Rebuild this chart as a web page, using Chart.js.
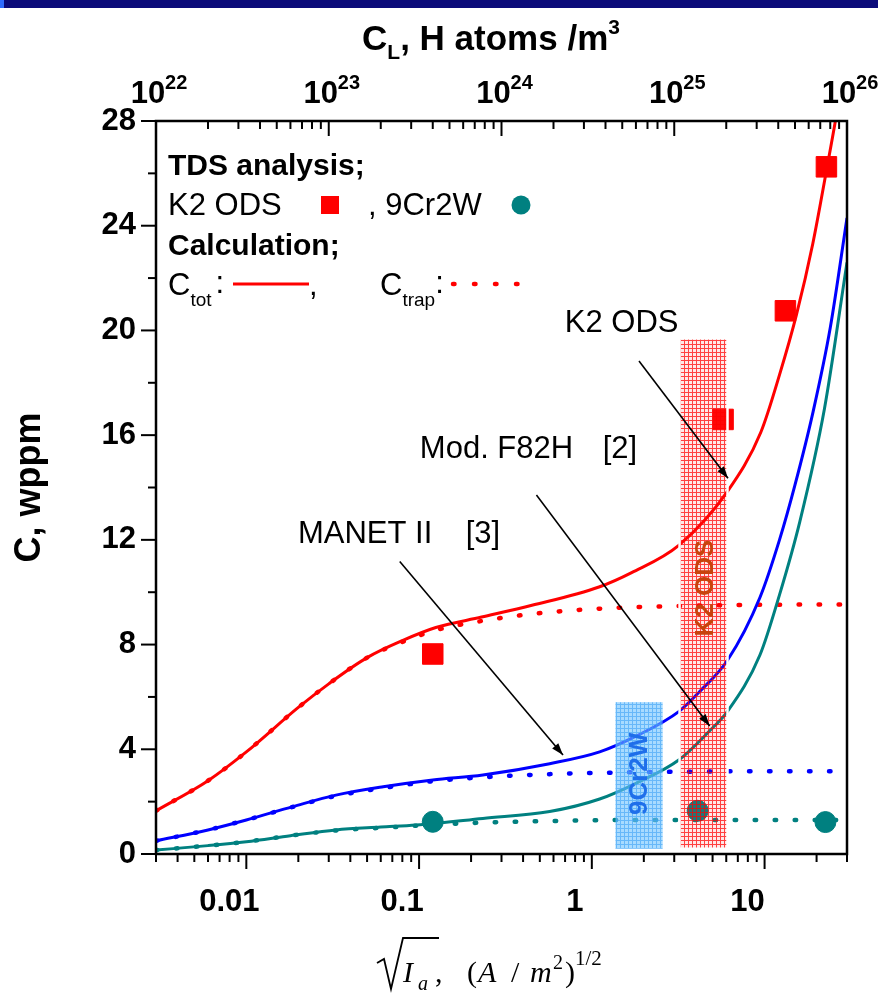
<!DOCTYPE html>
<html>
<head>
<meta charset="utf-8">
<script src="https://cdn.jsdelivr.net/npm/chart.js@4.4.1/dist/chart.umd.min.js"></script>
<style>
  html, body { margin: 0; padding: 0; background: #fff; }
  canvas { display: block; }
</style>
</head>
<body>
<canvas id="chart" width="878" height="993"></canvas>
<script>
// ---------- values ----------
// K2 ODS : total and trapped hydrogen concentration (wppm) vs sqrt(Ia)
const k2TotX  = [0.003, 0.006, 0.01, 0.02, 0.03, 0.05, 0.08, 0.125, 0.23, 0.45, 1.1, 1.7, 3.2, 6.1, 9.5, 12.2, 15.3, 19, 22.8, 26, 29];
const k2TotY  = [1.65, 2.8, 3.9, 5.6, 6.5, 7.5, 8.15, 8.65, 9.05, 9.5, 10.2, 10.75, 11.8, 13.85, 16.1, 18.3, 20.6, 23.3, 26.1, 28.2, 30.2];
const k2TrapX = [0.003, 0.006, 0.01, 0.02, 0.03, 0.05, 0.08, 0.125, 0.23, 0.45, 1.1, 3, 10, 30];
const k2TrapY = [1.65, 2.8, 3.9, 5.6, 6.5, 7.5, 8.1, 8.55, 8.9, 9.17, 9.37, 9.47, 9.52, 9.53];

// MANET II
const manetTotX  = [0.003, 0.006, 0.01, 0.0186, 0.033, 0.062, 0.12, 0.234, 0.57, 1.11, 1.8, 3.2, 4.2, 6.1, 9.4, 12.2, 15, 19.1, 24, 30];
const manetTotY  = [0.5, 0.92, 1.3, 1.81, 2.25, 2.57, 2.83, 3.02, 3.45, 3.9, 4.5, 5.45, 6.2, 7.4, 9.8, 12.0, 14.1, 16.9, 20.1, 24.3];
const manetTrapX = [0.003, 0.006, 0.01, 0.0186, 0.033, 0.062, 0.12, 0.234, 0.57, 1.11, 3, 10, 30];
const manetTrapY = [0.5, 0.92, 1.3, 1.8, 2.22, 2.52, 2.78, 2.93, 3.05, 3.1, 3.14, 3.16, 3.16];

// Mod. F82H
const f82hTotX  = [0.003, 0.006, 0.01, 0.018, 0.033, 0.06, 0.096, 0.234, 0.57, 1.11, 1.8, 3.2, 4.8, 6.1, 9.4, 12.2, 16, 22.2, 30];
const f82hTotY  = [0.15, 0.32, 0.47, 0.7, 0.92, 1.03, 1.11, 1.36, 1.62, 2.1, 2.7, 3.6, 4.7, 5.45, 7.6, 9.9, 12.7, 17.0, 22.6];
const f82hTrapX = [0.003, 0.006, 0.01, 0.018, 0.033, 0.06, 0.096, 0.234, 0.57, 1.11, 3, 30];
const f82hTrapY = [0.15, 0.32, 0.47, 0.7, 0.9, 1.0, 1.08, 1.2, 1.26, 1.29, 1.3, 1.3];

// TDS measurements
const k2OdsX = [0.12, 5.75, 13.2, 22.8];
const k2OdsY = [7.64, 16.6, 20.75, 26.25];
const cr2wX  = [0.12, 4.1, 22.5];
const cr2wY  = [1.23, 1.65, 1.22];

// axes
const X_MIN = 0.003, X_MAX = 30;
const CL_MIN = 1e22, CL_MAX = 1e26;
const Y_MIN = 0, Y_MAX = 28;
const BOTTOM_TICK_VALUES = [0.01, 0.1, 1, 10];
const BOTTOM_TICK_LABELS = ['0.01', '0.1', '1', '10'];
const TOP_EXPONENTS = [22, 23, 24, 25, 26];

// shaded ranges of sqrt(Ia) (x0, x1, y0, y1 in data units)
const band9Cr2W = [1.37, 2.57, 0.2, 5.8];
const bandK2    = [3.22, 6.1, 0.2, 19.7];

// callouts: text position and arrow (start -> tip), data units
const callouts = [
  { text: 'K2 ODS',    tx: 0.697, ty: 19.94, ref: '',    rx: 0,     ax0: 1.875, ay0: 18.83, ax1: 6.14, ay1: 14.35 },
  { text: 'Mod. F82H', tx: 0.101, ty: 15.13, ref: '[2]', rx: 1.156, ax0: 0.478, ay0: 13.71, ax1: 4.81, ay1: 4.89 },
  { text: 'MANET II',  tx: 0.0199, ty: 11.88, ref: '[3]', rx: 0.186, ax0: 0.0773, ay0: 11.17, ax1: 0.681, ay1: 3.78 }
];

const RED = '#ff0000', BLUE = '#0000ff', TEAL = '#008080';
const SANS = '"Liberation Sans", Arial, Helvetica, sans-serif';
const SERIF = '"Liberation Serif", "Times New Roman", serif';

const pts = (xs, ys) => xs.map((x, i) => ({ x, y: ys[i] }));

function solid(data, color) {
  return { data, showLine: true, borderColor: color, borderWidth: 3, pointRadius: 0,
           cubicInterpolationMode: 'monotone', fill: false };
}
function dotted(data, color) {
  return { data, showLine: true, borderColor: color, borderWidth: 4.5, pointRadius: 0,
           borderDash: [1.5, 18.5], borderCapStyle: 'round',
           cubicInterpolationMode: 'monotone', fill: false };
}

function mesh(ctx, base, line) {
  const t = document.createElement('canvas');
  t.width = 4; t.height = 4;
  const g = t.getContext('2d');
  if (base) { g.fillStyle = base; g.fillRect(0, 0, 4, 4); }
  g.fillStyle = line;
  g.fillRect(0, 0, 4, 1);
  g.fillRect(0, 1, 1, 3);
  return ctx.createPattern(t, 'repeat');
}

function arrow(c, x0, y0, x1, y1) {
  c.beginPath(); c.moveTo(x0, y0); c.lineTo(x1, y1); c.stroke();
  const a = Math.atan2(y1 - y0, x1 - x0), L = 12, W = 4;
  c.beginPath();
  c.moveTo(x1, y1);
  c.lineTo(x1 - L * Math.cos(a) + W * Math.sin(a), y1 - L * Math.sin(a) - W * Math.cos(a));
  c.lineTo(x1 - L * Math.cos(a) - W * Math.sin(a), y1 - L * Math.sin(a) + W * Math.cos(a));
  c.closePath(); c.fill();
}

// draws runs of [text, fontSize, baselineShift, weight, style, family]
function setFont(c, p) {
  const [, size, , weight, style, fam] = p;
  c.font = `${style || 'normal'} ${weight || 'normal'} ${size}px ${fam || SANS}`;
}
function runs(c, x, y, parts) {
  for (const p of parts) {
    setFont(c, p);
    c.fillText(p[0], x, y + (p[2] || 0));
    x += c.measureText(p[0]).width;
  }
  return x;
}
function runsWidth(c, parts) {
  let w = 0;
  for (const p of parts) { setFont(c, p); w += c.measureText(p[0]).width; }
  return w;
}

const decor = {
  id: 'decor',
  beforeDraw(chart) {
    const c = chart.ctx;
    c.save();
    c.fillStyle = '#ffffff';
    c.fillRect(0, 0, chart.width, chart.height);
    c.fillStyle = '#0b0b7a';
    c.fillRect(0, 0, chart.width, 8);
    c.fillStyle = '#2f6cff';
    c.fillRect(0, 0, 4, 8);
    c.restore();
  },
  afterDatasetsDraw(chart) {
    const c = chart.ctx, xs = chart.scales.x, ys = chart.scales.y;
    c.save();
    // shaded ranges
    const box = (b) => {
      const x0 = xs.getPixelForValue(b[0]), x1 = xs.getPixelForValue(b[1]);
      const y0 = ys.getPixelForValue(b[3]), y1 = ys.getPixelForValue(b[2]);
      return [x0, y0, x1 - x0, y1 - y0];
    };
    let r = box(band9Cr2W);
    c.fillStyle = mesh(c, 'rgba(110,195,255,0.6)', 'rgba(60,160,245,0.6)');
    c.fillRect(...r);
    c.save();
    c.translate(r[0] + r[2] / 2 + 1, ys.getPixelForValue(3.06));
    c.rotate(-Math.PI / 2);
    c.font = `bold 26px ${SANS}`; c.fillStyle = '#1f6fea';
    c.textAlign = 'center'; c.textBaseline = 'middle';
    c.fillText('9Cr2W', 0, 0);
    c.restore();

    r = box(bandK2);
    c.fillStyle = mesh(c, 'rgba(255,60,60,0.12)', 'rgba(255,0,0,0.72)');
    c.fillRect(...r);
    c.strokeStyle = '#ffffff'; c.lineWidth = 2.5;
    c.strokeRect(...r);
    c.save();
    c.translate(r[0] + r[2] / 2 + 2, ys.getPixelForValue(10.16));
    c.rotate(-Math.PI / 2);
    c.font = `bold 26px ${SANS}`; c.fillStyle = '#c8430c';
    c.textAlign = 'center'; c.textBaseline = 'middle';
    c.fillText('K2 ODS', 0, 0);
    c.restore();

    // callouts
    c.strokeStyle = '#000'; c.fillStyle = '#000'; c.lineWidth = 1.6;
    c.textBaseline = 'alphabetic'; c.textAlign = 'left';
    for (const k of callouts) {
      c.font = `31px ${SANS}`;
      c.fillText(k.text, xs.getPixelForValue(k.tx), ys.getPixelForValue(k.ty));
      if (k.ref) c.fillText(k.ref, xs.getPixelForValue(k.rx), ys.getPixelForValue(k.ty));
      arrow(c, xs.getPixelForValue(k.ax0), ys.getPixelForValue(k.ay0),
               xs.getPixelForValue(k.ax1), ys.getPixelForValue(k.ay1));
    }
    c.restore();
  },
  afterDraw(chart) {
    const c = chart.ctx, xs = chart.scales.x, xt = chart.scales.x2, ys = chart.scales.y;
    const { left, right, top, bottom } = chart.chartArea;
    c.save();
    c.strokeStyle = '#000'; c.lineWidth = 2;
    const seg = (a, b, d, e) => { c.beginPath(); c.moveTo(a, b); c.lineTo(d, e); c.stroke(); };

    // bottom ticks (outside)
    for (let e = -3; e <= 1; e++) {
      for (let m = 1; m <= 9; m++) {
        const v = m * Math.pow(10, e);
        if (v < X_MIN * 0.999 || v > X_MAX * 1.001) continue;
        const px = xs.getPixelForValue(v);
        seg(px, bottom, px, bottom + (m === 1 ? 15 : 8));
      }
    }
    // top ticks (inside)
    for (let e = 22; e <= 26; e++) {
      for (let m = 1; m <= 9; m++) {
        const v = m * Math.pow(10, e);
        if (v > CL_MAX * 1.001) continue;
        const px = xt.getPixelForValue(v);
        seg(px, top, px, top + (m === 1 ? 15 : 8));
      }
    }
    // left ticks (outside)
    for (let v = Y_MIN; v <= Y_MAX; v += 2) {
      const py = ys.getPixelForValue(v);
      seg(left, py, left - (v % 4 === 0 ? 15 : 8), py);
    }
    // frame
    c.lineWidth = 2.5;
    c.strokeRect(left, top, right - left, bottom - top);

    // top tick labels 10^n
    c.fillStyle = '#000'; c.textBaseline = 'alphabetic'; c.textAlign = 'left';
    for (const n of TOP_EXPONENTS) {
      const px = xt.getPixelForValue(Math.pow(10, n));
      const parts = [['10', 31, 0, 'bold'], [String(n), 20, -14, 'bold']];
      const w = runsWidth(c, parts);
      runs(c, px - w / 2 + 3, 103, parts);
    }
    // top axis title
    {
      const parts = [['C', 35, 0, 'bold'], ['L', 21, 9, 'bold'], [', H atoms /m', 35, 0, 'bold'], ['3', 21, -16, 'bold']];
      const w = runsWidth(c, parts);
      runs(c, 491 - w / 2, 50, parts);
    }
    // bottom axis title: sqrt(Ia), (A/m^2)^(1/2)
    {
      const base = 982;
      c.lineWidth = 1.8;
      c.beginPath();
      c.moveTo(377, 963); c.lineTo(384, 959); c.lineTo(391, 989);
      c.lineTo(403, 938); c.lineTo(439, 938);
      c.stroke();
      const put = (t, x, size, dy, style) => {
        c.font = `${style || 'normal'} ${size}px ${SERIF}`;
        c.fillText(t, x, base + dy);
      };
      put('I', 403, 30, 0, 'italic');
      put('a', 418, 20, 8, 'italic');
      put(',', 435, 30, 0);
      put('(', 467, 30, 0);
      put('A', 478, 30, 0, 'italic');
      put('/', 511, 30, 0);
      put('m', 530, 30, 0, 'italic');
      put('2', 553, 20, -13);
      put(')', 565, 30, 0);
      put('1/2', 575, 21, -17);
    }

    // legend block
    {
      const lx = left + 12;
      c.fillStyle = '#000';
      runs(c, lx, top + 54, [['TDS analysis;', 30, 0, 'bold']]);
      runs(c, lx, top + 94, [['K2 ODS', 31]]);
      c.fillStyle = RED; c.fillRect(left + 165, top + 75, 18, 18);
      c.fillStyle = '#000';
      runs(c, left + 212, top + 94, [[', 9Cr2W', 31]]);
      c.fillStyle = TEAL; c.beginPath(); c.arc(left + 365, top + 84, 9.5, 0, Math.PI * 2); c.fill();
      c.fillStyle = '#000';
      runs(c, lx, top + 134, [['Calculation;', 30, 0, 'bold']]);
      let x = runs(c, lx, top + 174, [['C', 31], ['tot', 19, 11]]);
      runs(c, x + 4, top + 172, [[':', 31]]);
      c.strokeStyle = RED; c.lineWidth = 3;
      seg(left + 77, top + 163, left + 153, top + 163);
      c.fillStyle = '#000';
      runs(c, left + 153, top + 174, [[',', 31]]);
      x = runs(c, left + 224, top + 174, [['C', 31], ['trap', 19, 11]]);
      runs(c, x, top + 172, [[':', 31]]);
      c.strokeStyle = RED; c.lineWidth = 4.5; c.lineCap = 'round';
      c.setLineDash([1.5, 19.5]);
      seg(left + 297, top + 163, left + 362, top + 163);
      c.setLineDash([]);
    }
    c.restore();
  }
};

new Chart(document.getElementById('chart'), {
  type: 'scatter',
  data: {
    datasets: [
      { label: 'K2 ODS (TDS)', data: pts(k2OdsX, k2OdsY), pointStyle: 'rect', pointRadius: 14.5,
        pointBackgroundColor: RED, pointBorderColor: RED, pointBorderWidth: 1, showLine: false },
      { label: '9Cr2W (TDS)', data: pts(cr2wX, cr2wY), pointStyle: 'circle', pointRadius: 10.5,
        pointBackgroundColor: TEAL, pointBorderColor: TEAL, pointBorderWidth: 1, showLine: false },
      { label: 'K2 ODS C_tot', ...solid(pts(k2TotX, k2TotY), RED) },
      { label: 'MANET II C_tot', ...solid(pts(manetTotX, manetTotY), BLUE) },
      { label: 'Mod. F82H C_tot', ...solid(pts(f82hTotX, f82hTotY), TEAL) },
      { label: 'K2 ODS C_trap', ...dotted(pts(k2TrapX, k2TrapY), RED) },
      { label: 'MANET II C_trap', ...dotted(pts(manetTrapX, manetTrapY), BLUE) },
      { label: 'Mod. F82H C_trap', ...dotted(pts(f82hTrapX, f82hTrapY), TEAL) }
    ]
  },
  options: {
    responsive: false,
    animation: false,
    devicePixelRatio: 1,
    layout: { padding: { left: 0, right: 31, top: 0, bottom: 0 } },
    plugins: { legend: { display: false }, tooltip: { enabled: false } },
    scales: {
      x: {
        type: 'logarithmic', position: 'bottom', min: X_MIN, max: X_MAX,
        afterBuildTicks: (s) => { s.ticks = BOTTOM_TICK_VALUES.map(v => ({ value: v })); },
        afterFit: (s) => { s.height = 139; },
        ticks: {
          callback: (v, i) => BOTTOM_TICK_LABELS[i],
          autoSkip: false, maxRotation: 0, padding: 30, labelOffset: -17,
          color: '#000', font: { family: SANS, size: 31, weight: 'bold' }
        },
        grid: { display: false, drawTicks: false },
        border: { display: false }
      },
      x2: {
        type: 'logarithmic', position: 'top', min: CL_MIN, max: CL_MAX,
        afterFit: (s) => { s.height = 121; },
        ticks: { display: false },
        grid: { display: false, drawTicks: false },
        border: { display: false }
      },
      y: {
        type: 'linear', position: 'left', min: Y_MIN, max: Y_MAX,
        afterFit: (s) => { s.width = 156; },
        ticks: { stepSize: 4, padding: 20, color: '#000',
                 font: { family: SANS, size: 31, weight: 'bold' } },
        title: { display: true, text: 'C, wppm', color: '#000', padding: { top: 8 },
                 font: { family: SANS, size: 36, weight: 'bold' } },
        grid: { display: false, drawTicks: false },
        border: { display: false }
      }
    }
  },
  plugins: [decor]
});
</script>
</body>
</html>
